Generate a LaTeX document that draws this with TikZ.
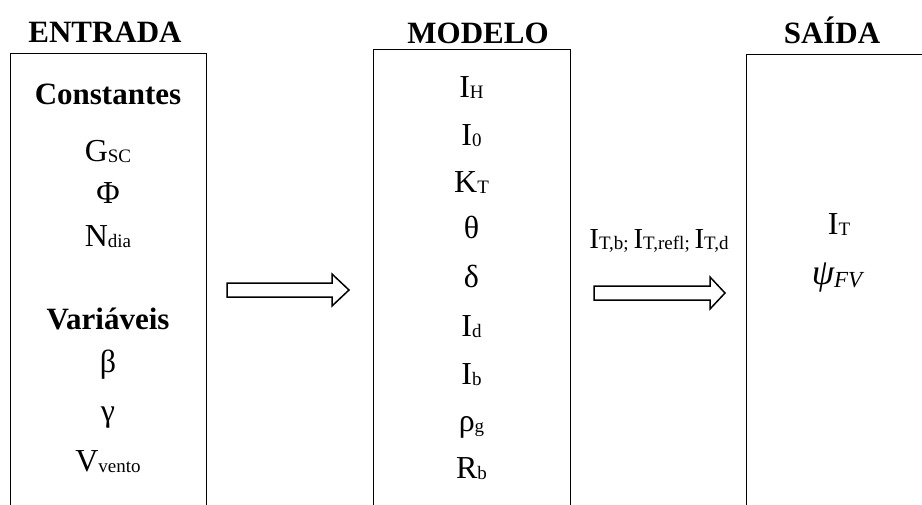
\documentclass[tikz,border=0pt]{standalone}
\usepackage{fontspec}
\setmainfont{Liberation Serif}
\newcommand{\sbs}[1]{\raisebox{-1.5pt}{\fontsize{19}{19}\selectfont #1}}
\newcommand{\sbl}[1]{\raisebox{-1.5pt}{\fontsize{19}{19}\selectfont #1}}
\newcommand{\sbp}[1]{\raisebox{-3pt}{\fontsize{23}{23}\selectfont #1}}
\begin{document}
\begin{tikzpicture}[x=1pt,y=-1pt,
  box/.style={draw, line width=1.2pt, inner sep=0pt, anchor=north west},
  ttl/.style={font=\fontsize{31}{31}\selectfont\bfseries, anchor=base, inner sep=0pt},
  hd/.style={font=\fontsize{31}{31}\selectfont\bfseries, anchor=base, inner sep=0pt},
  item/.style={font=\fontsize{32}{32}\selectfont, anchor=base, inner sep=0pt},
  lbl/.style={font=\fontsize{29}{29}\selectfont, anchor=base, inner sep=0pt},
  fat/.style={draw, line width=1.5pt, fill=white, line join=miter}]
\useasboundingbox (0,0) rectangle (922,504);
\clip (0,0) rectangle (922,504);
% boxes
\node[box, minimum width=196pt, minimum height=480pt] (b1) at (10,53) {};
\node[box, minimum width=197pt, minimum height=480pt] (b2) at (373,49) {};
\node[box, minimum width=300pt, minimum height=480pt] (b3) at (746,54) {};
% titles
\node[ttl] (t1) at (105,42) {ENTRADA};
\node[ttl] (t2) at (478,43) {MODELO};
\node[ttl] (t3) at (832,43) {SAÍDA};
% box 1
\node[hd] (c1) at (108,104) {Constantes};
\node[item] (gsc) at (108,161) {G\sbs{SC}};
\node[item] (phi) at (108,203) {Φ};
\node[item] (nd) at (108,246) {N\sbs{dia}};
\node[hd] (v1) at (108,329) {Variáveis};
\node[item] (beta) at (108,372) {β};
\node[item] (gam) at (108,421) {γ};
\node[item] (vv) at (108,471) {V\sbs{vento}};
% box 2
\node[item] (ih) at (471.5,97) {I\sbs{H}};
\node[item] (i0) at (471.5,145) {I\sbs{0}};
\node[item] (kt) at (471.5,192) {K\sbs{T}};
\node[item] (th) at (471.5,238) {θ};
\node[item] (de) at (471.5,287) {δ};
\node[item] (id) at (471.5,336) {I\sbs{d}};
\node[item] (ib) at (471.5,384) {I\sbs{b}};
\node[item] (rg) at (471.5,431) {ρ\sbs{g}};
\node[item] (rb) at (471.5,478) {R\sbs{b}};
% box 3
\node[item] (it) at (839,234) {I\sbs{T}};
\node[item, font=\fontsize{36}{36}\selectfont] (psi) at (837,284) {\itshape ψ\sbp{\itshape FV}};
% label
\node[lbl] (lab) at (659,248) {I\sbl{T,b; }I\sbl{T,refl; }I\sbl{T,d}};
% arrows
\coordinate (a1s) at (227,290);
\coordinate (a1t) at (349,290);
\draw[fat] (a1s) ++(0,-7) -- ++(105,0) -- ++(0,-9) -- (a1t) -- ++(-17,16) -- ++(0,-9) -- ++(-105,0) -- cycle;
\coordinate (a2s) at (594,293);
\coordinate (a2t) at (725,293);
\draw[fat] (a2s) ++(0,-7) -- ++(116,0) -- ++(0,-9) -- (a2t) -- ++(-15,16) -- ++(0,-9) -- ++(-116,0) -- cycle;
\end{tikzpicture}
\end{document}
